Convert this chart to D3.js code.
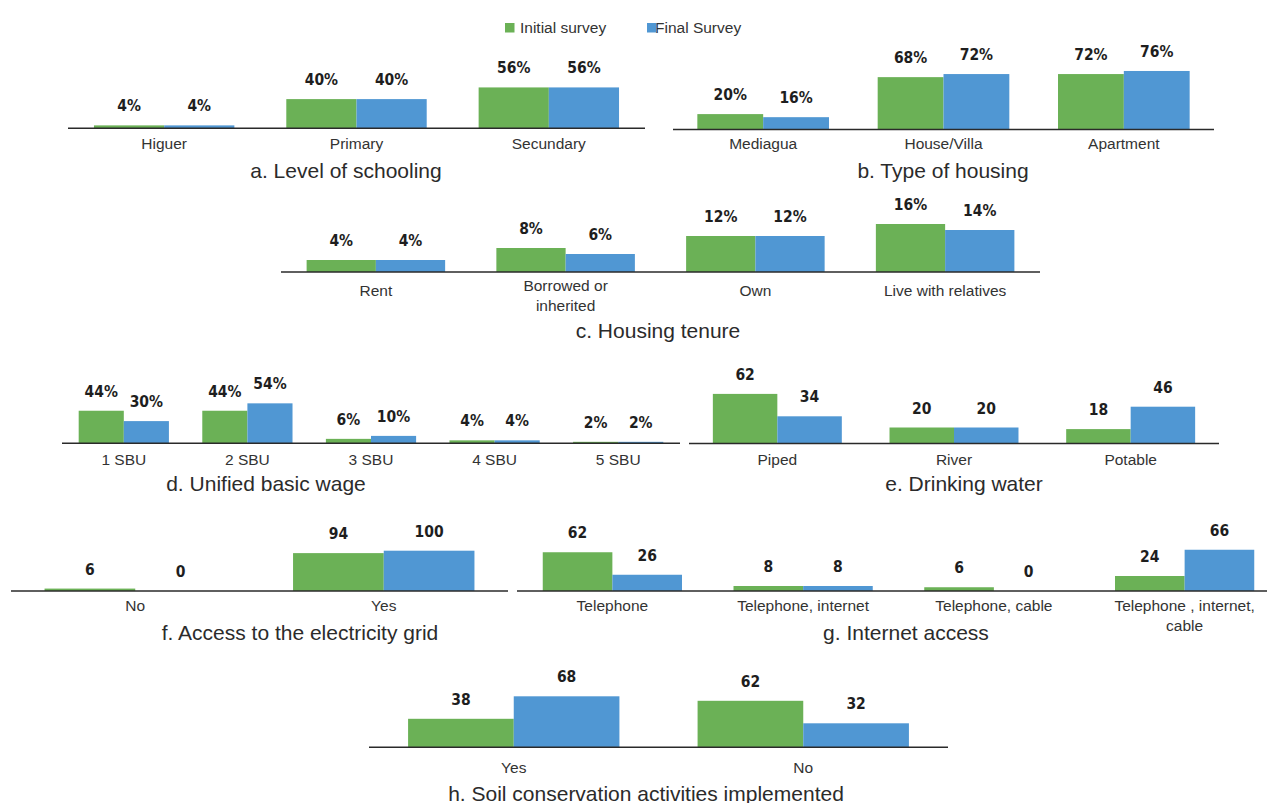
<!DOCTYPE html>
<html>
<head>
<meta charset="utf-8">
<script src="https://cdn.jsdelivr.net/npm/d3@7"></script>
<style>
  body { margin: 0; background: #fff; }
  svg { display: block; }
  .cat { font-family: "Liberation Sans", Arial, sans-serif; font-size: 15.5px; fill: #333; }
  .ttl { font-family: "Liberation Sans", Arial, sans-serif; font-size: 21px; fill: #2b2b2b; }
  .val { font-family: "DejaVu Sans Condensed", "DejaVu Sans", sans-serif; font-stretch: condensed; font-weight: bold; font-size: 15.5px; fill: #1e1e1e; }
</style>
</head>
<body>
<svg id="chart" width="1267" height="803"></svg>
<script>
// legend
const seriesNames = ["Initial survey", "Final Survey"];

// a. level of schooling
const schoolingCats = ["Higuer", "Primary", "Secundary"];
const schoolingInitial = [4, 40, 56];
const schoolingFinal = [4, 40, 56];

// b. type of housing
const housingCats = ["Mediagua", "House/Villa", "Apartment"];
const housingInitial = [20, 68, 72];
const housingFinal = [16, 72, 76];

// c. housing tenure
const tenureCats = ["Rent", "Borrowed or\ninherited", "Own", "Live with relatives"];
const tenureInitial = [4, 8, 12, 16];
const tenureFinal = [4, 6, 12, 14];

// d. unified basic wage
const wageCats = ["1 SBU", "2 SBU", "3 SBU", "4 SBU", "5 SBU"];
const wageInitial = [44, 44, 6, 4, 2];
const wageFinal = [30, 54, 10, 4, 2];

// e. drinking water
const waterCats = ["Piped", "River", "Potable"];
const waterInitial = [62, 20, 18];
const waterFinal = [34, 20, 46];

// f. electricity
const gridCats = ["No", "Yes"];
const gridInitial = [6, 94];
const gridFinal = [0, 100];

// g. internet
const internetCats = ["Telephone", "Telephone, internet", "Telephone, cable", "Telephone , internet,\ncable"];
const internetInitial = [62, 8, 6, 24];
const internetFinal = [26, 8, 0, 66];

// h. soil conservation
const soilCats = ["Yes", "No"];
const soilInitial = [38, 62];
const soilFinal = [68, 32];

const colors = ["#6BB156", "#5097D3"];

// panel layout (positions only)
const panels = [
  {cats: schoolingCats, a: schoolingInitial, b: schoolingFinal, pct: true, title: "a. Level of schooling",
   x0: 68, x1: 645, base: 128.3, unit: 0.73, catDy: 14.5, tx: 346, ty: 170},
  {cats: housingCats, a: housingInitial, b: housingFinal, pct: true, title: "b. Type of housing",
   x0: 673, x1: 1214, base: 129.5, unit: 0.77, catDy: 13.5, tx: 943, ty: 170},
  {cats: tenureCats, a: tenureInitial, b: tenureFinal, pct: true, title: "c. Housing tenure",
   x0: 281, x1: 1040, base: 272, unit: 3.0, catDy: 18, multiDy: 13, tx: 658, ty: 330},
  {cats: wageCats, a: wageInitial, b: wageFinal, pct: true, title: "d. Unified basic wage",
   x0: 62, x1: 680, base: 443.3, unit: 0.74, catDy: 15.5, tx: 266, ty: 483},
  {cats: waterCats, a: waterInitial, b: waterFinal, pct: false, title: "e. Drinking water",
   x0: 689, x1: 1219, base: 443.5, unit: 0.8, catDy: 15, tx: 964, ty: 483},
  {cats: gridCats, a: gridInitial, b: gridFinal, pct: false, title: "f. Access to the electricity grid",
   x0: 11, x1: 508, base: 591, unit: 0.403, catDy: 14, tx: 300, ty: 632.5},
  {cats: internetCats, a: internetInitial, b: internetFinal, pct: false, title: "g. Internet access",
   x0: 517, x1: 1280, base: 591, unit: 0.625, catDy: 14, multiDy: 14, tx: 906, ty: 632},
  {cats: soilCats, a: soilInitial, b: soilFinal, pct: false, title: "h. Soil conservation activities implemented",
   x0: 369, x1: 948, base: 747.3, unit: 0.75, catDy: 19.5, tx: 646, ty: 793}
];

const svg = d3.select("#chart");

function drawPanel(p) {
  const g = svg.append("g");
  const x = d3.scaleBand().domain(p.cats).range([p.x0, p.x1])
    .paddingInner(0.27).paddingOuter(0.135);
  const xs = d3.scaleBand().domain([0, 1]).range([0, x.bandwidth()]);
  const y = d3.scaleLinear().domain([0, 100]).range([p.base, p.base - 100 * p.unit]);

  const rows = [];
  p.cats.forEach((c, i) => {
    rows.push({cat: c, s: 0, v: p.a[i]});
    rows.push({cat: c, s: 1, v: p.b[i]});
  });

  g.selectAll("rect").data(rows).enter().append("rect")
    .attr("x", d => x(d.cat) + xs(d.s))
    .attr("y", d => y(d.v))
    .attr("width", xs.bandwidth())
    .attr("height", d => y(0) - y(d.v))
    .attr("fill", d => colors[d.s]);

  g.selectAll("text.val").data(rows).enter().append("text")
    .attr("class", "val")
    .attr("x", d => x(d.cat) + xs(d.s) + xs.bandwidth() / 2)
    .attr("y", d => y(d.v) - 19)
    .attr("text-anchor", "middle")
    .attr("dominant-baseline", "central")
    .text(d => d.v + (p.pct ? "%" : ""));

  // axis line
  g.append("line")
    .attr("x1", p.x0).attr("x2", p.x1)
    .attr("y1", y(0)).attr("y2", y(0))
    .attr("stroke", "#2a2a2a").attr("stroke-width", 1.5);

  // category labels
  p.cats.forEach(c => {
    const lines = c.split("\n");
    const dy0 = lines.length > 1 ? p.multiDy : p.catDy;
    const t = g.append("text").attr("class", "cat")
      .attr("text-anchor", "middle")
      .attr("dominant-baseline", "central");
    lines.forEach((ln, k) => {
      t.append("tspan")
        .attr("x", x(c) + x.bandwidth() / 2)
        .attr("y", y(0) + dy0 + k * 20)
        .text(ln);
    });
  });

  g.append("text").attr("class", "ttl")
    .attr("x", p.tx).attr("y", p.ty)
    .attr("text-anchor", "middle")
    .attr("dominant-baseline", "central")
    .text(p.title);
}

panels.forEach(drawPanel);

// legend
const legendPos = [{x: 505, tx: 520}, {x: 647, tx: 655}];
const lg = svg.append("g");
seriesNames.forEach((n, i) => {
  lg.append("text").attr("class", "cat")
    .attr("x", legendPos[i].tx).attr("y", 27.5)
    .attr("dominant-baseline", "central")
    .text(n);
  lg.append("rect")
    .attr("x", legendPos[i].x).attr("y", 23)
    .attr("width", 9.5).attr("height", 9.5)
    .attr("fill", colors[i]);
});
</script>
</body>
</html>
